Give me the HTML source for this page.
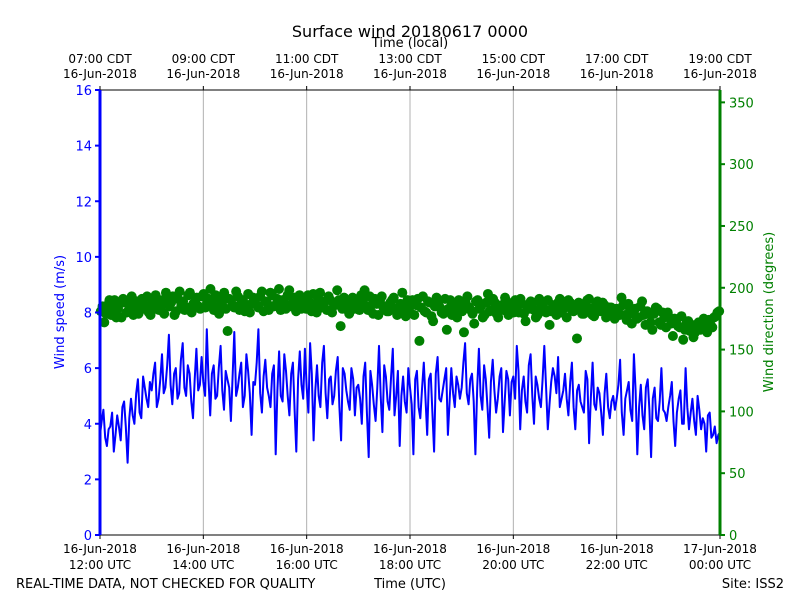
<!DOCTYPE html>
<html><head><meta charset="utf-8"><style>
body{margin:0;background:#fff}
svg{display:block;font-family:"DejaVu Sans","Liberation Sans",sans-serif}
</style></head><body>
<svg id="chart" width="800" height="600" viewBox="0 0 800 600">
<rect width="800" height="600" fill="#fff"/>
<text x="410" y="37" font-size="16" text-anchor="middle">Surface wind 20180617 0000</text>
<text x="410" y="47" font-size="13" text-anchor="middle">Time (local)</text>
<g id="grid"></g><g id="dirs"></g><g id="speed"></g><g id="axes"></g>
<text x="16" y="588" font-size="13">REAL-TIME DATA, NOT CHECKED FOR QUALITY</text>
<text x="410" y="588" font-size="13" text-anchor="middle">Time (UTC)</text>
<text x="784" y="588" font-size="13" text-anchor="end">Site: ISS2</text>
<text transform="translate(64,312) rotate(-90)" font-size="13" fill="#0000ff" text-anchor="middle">Wind speed (m/s)</text>
<text transform="translate(773,312) rotate(-90)" font-size="13" fill="#008000" text-anchor="middle">Wind direction (degrees)</text>
</svg>
<script>
const speedValues=[3.6,4.5,3.2,3.9,3.0,4.3,3.4,4.8,2.6,4.9,4.0,5.6,4.2,5.3,4.6,
5.2,6.2,4.9,6.5,5.3,7.2,4.7,6.0,5.1,6.9,5.0,5.8,4.2,6.7,5.4,
5.5,7.4,4.3,6.1,5.0,6.8,4.5,5.6,4.1,7.3,5.3,6.2,5.0,5.9,3.6,
5.4,7.4,4.4,6.3,5.0,5.8,2.9,6.6,4.8,5.9,4.3,6.2,3.0,6.6,4.9,
5.3,6.9,3.4,6.1,4.6,6.8,4.2,5.7,5.0,6.4,3.4,5.8,4.8,6.0,4.3,
5.4,4.0,6.2,2.8,5.4,4.1,6.8,3.7,5.7,4.5,6.7,5.0,3.2,5.7,4.4,
5.3,2.9,5.9,4.2,6.2,3.6,5.8,3.0,6.4,4.8,5.6,3.6,6.0,4.6,5.4,
5.3,6.9,4.7,5.8,2.9,6.7,4.5,5.6,3.5,6.3,4.4,5.7,3.7,5.9,4.3,
5.7,6.8,3.8,5.7,4.4,6.5,4.0,5.4,4.6,6.8,3.8,5.5,5.7,6.4,4.9,
5.8,4.3,6.2,3.8,5.4,4.6,5.9,3.3,6.2,4.5,5.1,3.6,5.8,4.2,5.0,
4.9,6.3,3.6,5.2,4.5,6.5,2.9,5.4,3.8,5.6,2.8,5.3,4.1,6.0,4.4,
4.6,5.5,3.2,4.9,4.0,6.0,3.8,4.9,3.6,4.5,4.2,3.0,4.4,3.6,3.3,3.7];
const speedValuesB=[4.1,3.5,3.8,4.4,3.6,3.9,4.6,3.9,4.2,4.3,5.1,4.4,5.7,4.9,5.5,
5.8,4.6,5.6,5.1,6.1,5.4,5.8,4.9,6.3,5.3,6.1,4.8,5.6,5.2,6.4,
5.0,5.6,5.8,4.9,6.0,5.2,5.9,5.3,5.7,5.0,5.8,4.6,6.5,5.1,5.5,
6.2,5.1,5.7,5.3,4.6,6.1,5.2,5.0,6.5,5.0,5.8,4.5,5.6,5.4,6.7,
4.4,5.8,5.2,5.0,6.2,5.1,5.6,4.7,5.9,4.6,6.0,5.2,4.5,5.6,5.3,
4.9,5.7,4.4,5.9,4.7,5.3,5.0,6.1,4.8,5.7,4.3,5.9,5.0,4.8,6.0,
4.7,5.6,4.6,5.3,4.9,5.6,4.4,5.8,4.9,5.2,6.0,4.8,5.1,5.7,4.9,
6.2,5.1,5.6,4.8,5.3,5.0,6.1,4.6,5.5,5.2,4.9,6.0,4.8,5.6,5.5,
4.9,5.9,5.2,4.8,6.1,5.0,5.7,4.9,5.6,5.3,4.7,6.0,5.1,4.6,5.2,
4.9,5.5,4.6,5.2,4.8,4.4,5.6,4.9,4.7,5.3,4.4,5.1,4.6,4.8,4.5,
5.4,4.4,4.9,5.5,4.1,5.2,4.6,4.3,5.3,4.5,4.9,4.2,4.8,4.5,4.1,
5.0,4.1,4.4,5.2,4.0,4.6,4.4,4.1,5.0,3.8,4.0,4.3,3.5,3.9,3.6];
const dirValues=[181,172,186,178,190,183,176,188,181,193,184,179,191,185,180,
188,194,182,190,196,185,193,181,197,189,184,196,187,192,183,
195,188,199,182,192,186,196,165,190,184,193,188,181,195,187,
191,184,197,189,182,194,186,199,190,183,198,188,181,194,190,
183,188,195,180,196,186,182,190,187,198,169,192,184,189,183,
188,194,198,182,186,191,178,193,185,181,190,183,182,196,177,
181,190,186,157,193,180,188,173,192,184,179,166,190,182,176,
187,164,193,182,171,190,185,178,195,182,188,176,186,192,178,
185,190,180,187,173,183,188,176,191,184,180,170,186,178,191,
183,176,188,181,159,186,179,190,183,177,189,181,186,179,184,
175,181,192,178,187,171,183,176,189,170,179,166,184,172,180,
168,176,161,174,168,158,172,165,160,170,166,175,164,170,176,180];
const dirValuesB=[185,179,190,183,176,187,191,180,186,178,189,182,187,193,178,
183,189,185,179,192,188,178,191,186,182,194,180,189,185,193,
184,191,186,194,179,189,183,191,186,197,182,190,185,180,192,
186,193,181,188,196,185,191,182,188,194,185,192,187,183,189,
194,181,187,191,184,189,193,180,186,190,183,188,179,192,186,
182,189,185,193,179,187,190,184,181,188,192,178,187,183,190,
186,178,191,184,181,189,177,185,188,180,191,183,178,186,190,
181,188,184,179,189,183,176,188,181,191,179,185,182,189,184,
180,186,191,179,184,189,182,178,187,183,190,181,185,188,180,
186,190,182,184,188,179,185,191,178,186,182,188,176,184,180,
183,178,186,174,182,179,175,185,178,181,172,179,183,170,176,
180,171,175,169,177,166,173,170,164,172,168,171,174,168,177,181];
const timeTicks=["12:00","14:00","16:00","18:00","20:00","22:00","00:00"];
const timeDates=["16-Jun-2018","16-Jun-2018","16-Jun-2018","16-Jun-2018","16-Jun-2018","16-Jun-2018","17-Jun-2018"];
const localTicks=["07:00 CDT","09:00 CDT","11:00 CDT","13:00 CDT","15:00 CDT","17:00 CDT","19:00 CDT"];
const speedTicks=[0,2,4,6,8,10,12,14,16];
const dirTicks=[0,50,100,150,200,250,300,350];

const L=100,R=720,T=90,B=535,ns="http://www.w3.org/2000/svg";
const xHours=h=>L+(R-L)*h/12;
const yS=v=>B-(B-T)*v/16;
const yD=v=>B-(B-T)*v/360;
function mk(tag,attrs,parent,txt){const e=document.createElementNS(ns,tag);for(const k in attrs)e.setAttribute(k,attrs[k]);if(txt!==undefined)e.textContent=txt;document.getElementById(parent).appendChild(e);return e;}

timeTicks.forEach((t,i)=>{const x=xHours(i*2);
 if(i>0&&i<6){const g=mk('line',{x1:x,x2:x,y1:T,y2:B,stroke:'#b0b0b0','stroke-width':1},'grid');
 
 }
 const a=mk('text',{x:x,y:553,'font-size':12,'text-anchor':'middle'},'axes',timeDates[i]);
 
 
 const b=mk('text',{x:x,y:569,'font-size':12,'text-anchor':'middle'},'axes',t+" UTC");
 
 
 const c=mk('text',{x:x,y:63,'font-size':12,'text-anchor':'middle'},'axes',localTicks[i]);
 
 
 const d=mk('text',{x:x,y:78,'font-size':12,'text-anchor':'middle'},'axes',"16-Jun-2018");
 
 
 mk('line',{x1:x,x2:x,y1:B,y2:B+4,stroke:'#000'},'axes');
 mk('line',{x1:x,x2:x,y1:T,y2:T-4,stroke:'#000'},'axes');
});
const dstep=12/dirValues.length;
dirValues.forEach((v,i)=>{const c=mk('circle',{cx:xHours(i*dstep+dstep*0.25),cy:yD(v),r:5,fill:'#008000'},'dirs');
 
 });
dirValuesB.forEach((v,i)=>{const c=mk('circle',{cx:xHours(i*dstep+dstep*0.75),cy:yD(v),r:5,fill:'#008000'},'dirs');
 
 });
const sstep=12/(speedValues.length-1);
const merged=[];
speedValues.forEach((v,i)=>{merged.push([i*sstep,v]);if(i<speedValuesB.length&&i<speedValues.length-1)merged.push([(i+0.5)*sstep,speedValuesB[i]]);});
const pts=merged.map(p=>xHours(p[0]).toFixed(1)+","+yS(p[1]).toFixed(1)).join(" ");
const pl=mk('polyline',{points:pts,fill:'none',stroke:'#0000ff','stroke-width':2,'stroke-linejoin':'round'},'speed');


mk('rect',{x:L,y:T,width:R-L,height:B-T,fill:'none',stroke:'#000','stroke-width':1},'axes');
mk('line',{x1:L,x2:L,y1:T,y2:B,stroke:'#0000ff','stroke-width':3},'axes');
mk('line',{x1:R,x2:R,y1:T,y2:B,stroke:'#008000','stroke-width':3},'axes');
speedTicks.forEach(v=>{const y=yS(v);mk('line',{x1:L-5,x2:L,y1:y,y2:y,stroke:'#0000ff','stroke-width':2},'axes');
 const t=mk('text',{x:L-8,y:y+5,'font-size':13,'text-anchor':'end',fill:'#0000ff'},'axes',v);
 
 });
dirTicks.forEach(v=>{const y=yD(v);mk('line',{x1:R,x2:R+5,y1:y,y2:y,stroke:'#008000','stroke-width':2},'axes');
 const t=mk('text',{x:R+9,y:y+5,'font-size':13,fill:'#008000'},'axes',v);
 
 });
</script>
</body></html>
